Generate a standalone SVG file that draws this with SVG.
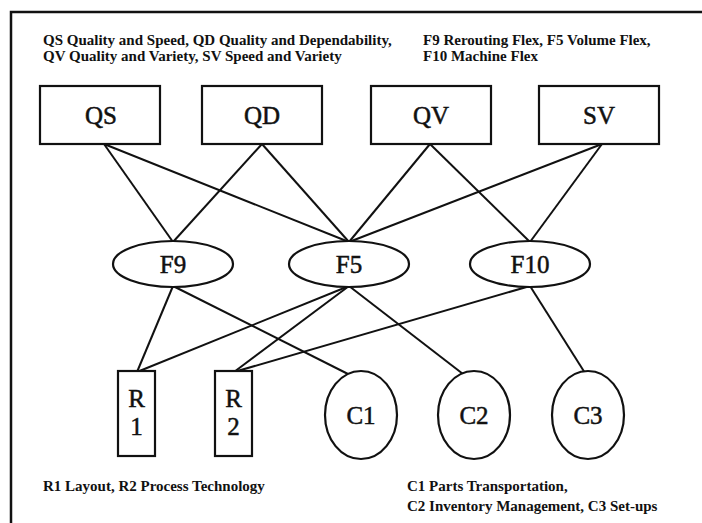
<svg xmlns="http://www.w3.org/2000/svg" width="702" height="523" viewBox="0 0 702 523">
  <style>
    .frame { fill: none; stroke: #111; stroke-width: 2.5; }
    .node { fill: #fff; stroke: #111; stroke-width: 2.2; }
    .edge { stroke: #111; stroke-width: 2; fill: none; }
    .legend { font-family: "Liberation Serif", "Times New Roman", serif; font-weight: bold; font-size: 15px; fill: #111; }
    .label { font-family: "Liberation Serif", "Times New Roman", serif; font-size: 25px; fill: #111; stroke: #111; stroke-width: 0.5; text-anchor: middle; }
  </style>
  <rect width="702" height="523" fill="#fff"/>
  <path class="frame" d="M11,523 V12 H702"/>

  <g id="legend-top">
    <text class="legend" x="43" y="45">QS Quality and Speed, QD Quality and Dependability,</text>
    <text class="legend" x="43" y="61">QV Quality and Variety, SV Speed and Variety</text>
    <text class="legend" x="423" y="45">F9 Rerouting Flex, F5 Volume Flex,</text>
    <text class="legend" x="423" y="61">F10 Machine Flex</text>
  </g>

  <g id="connectors">
    <line class="edge" x1="104" y1="144" x2="173" y2="242"/>
    <line class="edge" x1="104" y1="144" x2="349" y2="242"/>
    <line class="edge" x1="262" y1="144" x2="173" y2="242"/>
    <line class="edge" x1="262" y1="144" x2="349" y2="242"/>
    <line class="edge" x1="430" y1="144" x2="349" y2="242"/>
    <line class="edge" x1="430" y1="144" x2="530" y2="242"/>
    <line class="edge" x1="602" y1="144" x2="349" y2="242"/>
    <line class="edge" x1="602" y1="144" x2="530" y2="242"/>
    <line class="edge" x1="173" y1="286" x2="137" y2="372"/>
    <line class="edge" x1="173" y1="286" x2="350" y2="375"/>
    <line class="edge" x1="349" y1="286" x2="137" y2="372"/>
    <line class="edge" x1="349" y1="286" x2="234" y2="372"/>
    <line class="edge" x1="349" y1="286" x2="463" y2="374"/>
    <line class="edge" x1="530" y1="286" x2="234" y2="372"/>
    <line class="edge" x1="530" y1="286" x2="585" y2="373"/>
  </g>

  <g id="QS"><rect class="node" x="40" y="86" width="120" height="58"/><text class="label" x="101" y="124">QS</text></g>
  <g id="QD"><rect class="node" x="202" y="86" width="120" height="58"/><text class="label" x="262" y="124">QD</text></g>
  <g id="QV"><rect class="node" x="371" y="86" width="120" height="58"/><text class="label" x="431" y="124">QV</text></g>
  <g id="SV"><rect class="node" x="539" y="86" width="120" height="58"/><text class="label" x="599" y="124">SV</text></g>

  <g id="F9"><ellipse class="node" cx="173" cy="264" rx="60" ry="23"/><text class="label" x="173" y="273">F9</text></g>
  <g id="F5"><ellipse class="node" cx="349" cy="264" rx="60" ry="23"/><text class="label" x="349" y="273">F5</text></g>
  <g id="F10"><ellipse class="node" cx="530" cy="264" rx="60" ry="23"/><text class="label" x="530" y="273">F10</text></g>

  <g id="R1"><rect class="node" x="118" y="371" width="37" height="85"/><text class="label" x="136.5" y="407">R</text><text class="label" x="136.5" y="435">1</text></g>
  <g id="R2"><rect class="node" x="215" y="371" width="37" height="85"/><text class="label" x="233.5" y="407">R</text><text class="label" x="233.5" y="435">2</text></g>
  <g id="C1"><ellipse class="node" cx="361" cy="415" rx="36" ry="44"/><text class="label" x="361" y="424">C1</text></g>
  <g id="C2"><ellipse class="node" cx="474" cy="415" rx="36" ry="44"/><text class="label" x="474" y="424">C2</text></g>
  <g id="C3"><ellipse class="node" cx="588" cy="415" rx="36" ry="44"/><text class="label" x="588" y="424">C3</text></g>

  <g id="legend-bottom">
    <text class="legend" x="43" y="491">R1 Layout, R2 Process Technology</text>
    <text class="legend" x="407" y="491">C1 Parts Transportation,</text>
    <text class="legend" x="407" y="511">C2 Inventory Management, C3 Set-ups</text>
  </g>
</svg>
